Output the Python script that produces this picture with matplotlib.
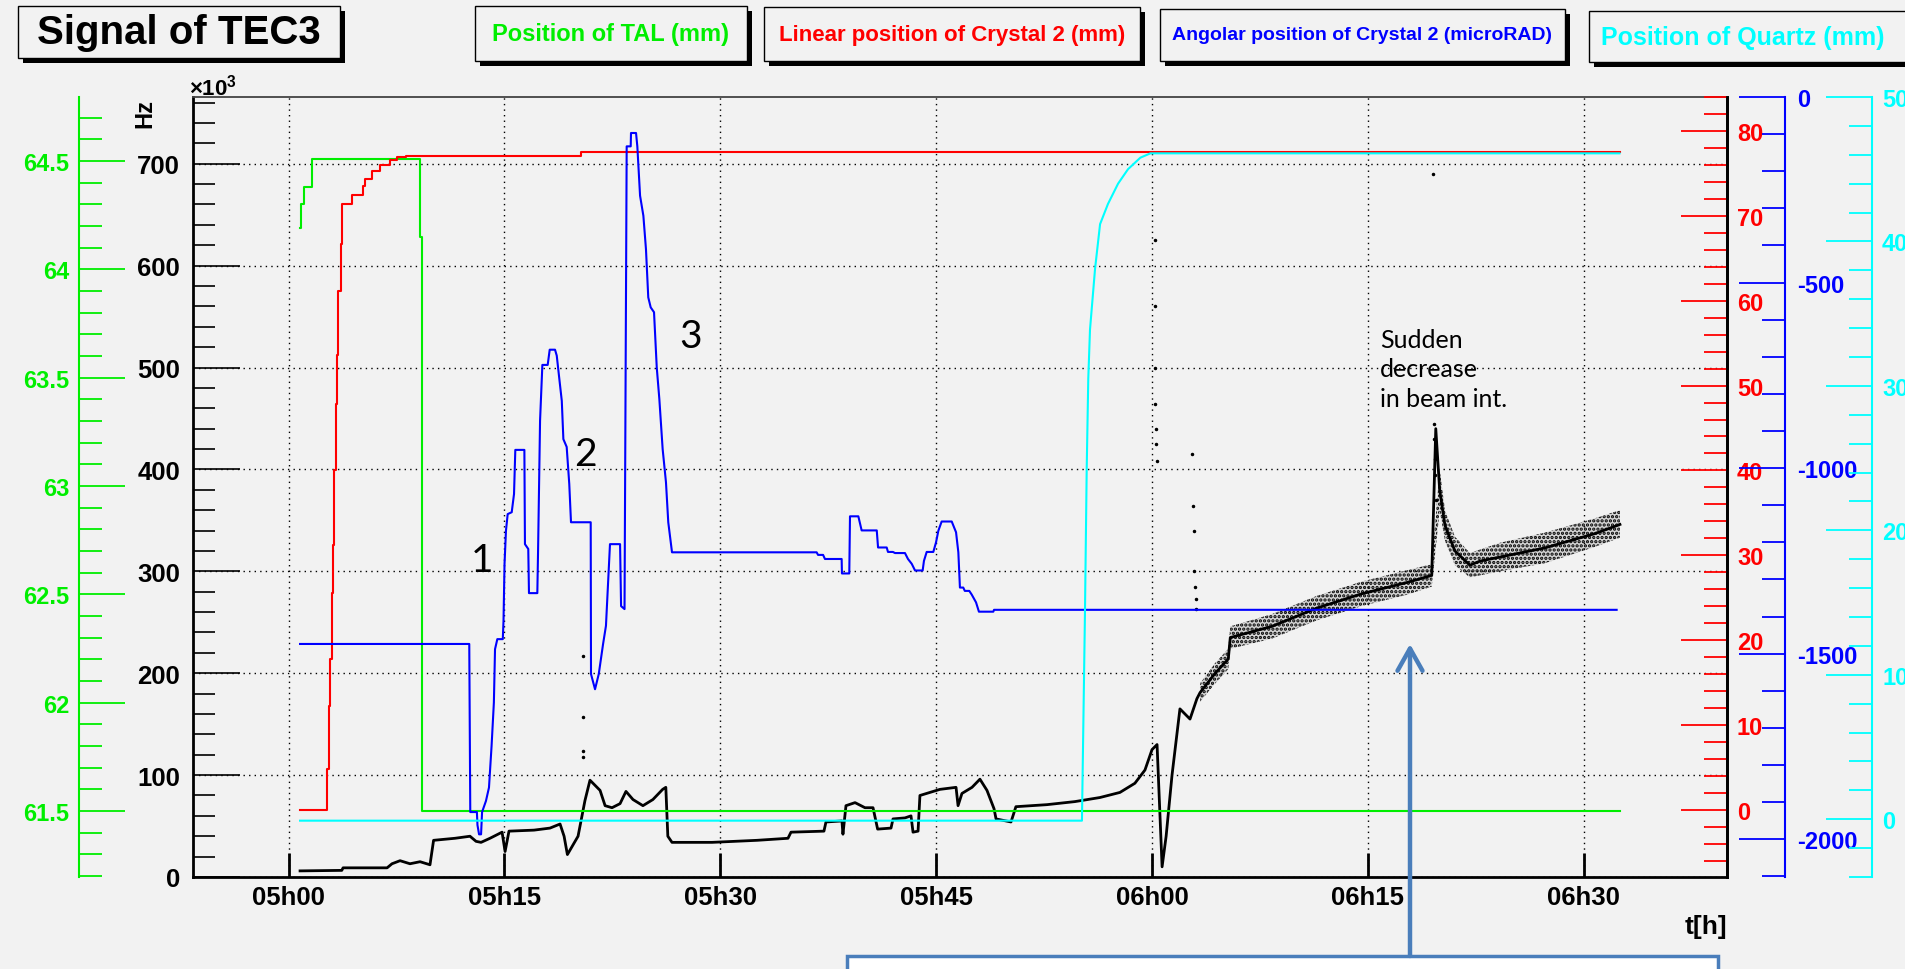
import numpy as np
import matplotlib.pyplot as plt
from matplotlib.patches import Rectangle, FancyArrowPatch
from matplotlib.ticker import MultipleLocator, FuncFormatter

# time is in minutes after 05h00
# Position of TAL (mm)
tal_t = [0.8, 0.87, 1.1, 1.63, 9.14, 9.3, 92.5]
tal_mm = [64.19, 64.30, 64.38, 64.51, 64.15, 61.5, 61.5]

# Linear position of Crystal 2 (mm)
lin_t = [0.8, 2.65, 2.81, 2.91, 3.0, 3.09, 3.19, 3.28, 3.37, 3.46, 3.62, 3.69, 4.44, 5.15,
         5.32, 5.78, 6.36, 7.05, 7.56, 8.17, 20.3, 92.5]
lin_mm = [0, 4.8, 12.2, 17.8, 25.6, 31.2, 40.0, 47.8, 53.6, 61.2, 66.7, 71.4, 72.4, 73.5,
          74.3, 75.3, 76.0, 76.6, 76.9, 77.1, 77.5, 77.5]

# Angular position of Crystal 2 (microRAD)
ang_t = [0.80, 12.56, 12.63, 13.09, 13.13, 13.24, 13.38, 13.45, 13.72, 13.93, 14.11, 14.27,
         14.35, 14.51, 14.89, 14.94, 15.01, 15.11, 15.23, 15.51, 15.67, 15.76, 16.39, 16.43,
         16.66, 16.71, 17.29, 17.34, 17.48, 17.64, 18.01, 18.15, 18.52, 18.64, 18.82, 18.99,
         19.10, 19.33, 19.51, 19.63, 21.00, 21.02, 21.30, 21.56, 21.86, 22.06, 22.34, 23.04,
         23.11, 23.35, 23.50, 23.78, 23.80, 24.15, 24.24, 24.43, 24.66, 24.84, 25.00, 25.17,
         25.40, 25.59, 25.77, 26.00, 26.23, 26.39, 26.65, 36.70, 36.80, 37.15, 37.28, 38.44,
         38.46, 38.97, 39.02, 39.60, 39.83, 40.88, 40.97, 41.57, 41.66, 42.00, 42.15, 42.84,
         43.05, 43.31, 43.54, 44.07, 44.16, 44.35, 44.81, 45.00, 45.16, 45.39, 46.09, 46.39,
         46.55, 46.66, 46.89, 47.00, 47.31, 47.48, 47.78, 47.98, 48.98, 49.03, 92.30]
ang_urad = [-1474, -1474, -1927, -1927, -1962, -1987, -1987, -1927, -1897, -1861, -1749, -1632,
            -1488, -1461, -1461, -1412, -1259, -1169, -1124, -1119, -1070, -951, -951, -1205,
            -1218, -1337, -1337, -1227, -872, -722, -722, -681, -681, -697, -760, -819,
            -922, -943, -1043, -1146, -1146, -1555, -1596, -1555, -1474, -1425, -1205, -1205,
            -1372, -1380, -133, -133, -97, -97, -133, -266, -320, -410, -540, -567,
            -580, -729, -814, -949, -1038, -1146, -1227, -1227, -1234, -1234, -1245, -1245,
            -1284, -1284, -1130, -1130, -1168, -1168, -1214, -1214, -1226, -1226, -1229, -1229,
            -1245, -1258, -1276, -1276, -1250, -1226, -1226, -1200, -1169, -1144, -1144, -1173,
            -1227, -1322, -1322, -1331, -1331, -1341, -1362, -1387, -1387, -1382, -1382]

# Position of Quartz (mm)
qz_t = [0.8, 55.14, 55.35, 55.47, 55.58, 55.7, 56.05, 56.4, 56.95, 57.65, 58.34, 59.2, 59.9, 92.5]
qz_mm = [-0.1, -0.1, 14.3, 24.2, 30.5, 33.9, 38.1, 41.2, 42.6, 44.0, 45.0, 45.8, 46.1, 46.1]

# TEC3 signal (x10^3 Hz), trend of the dots
sig_t = [0.80, 3.70, 3.79, 6.85, 7.19, 7.75, 8.44, 9.14, 9.83, 10.08,
         11.57, 12.61, 13.03, 13.38, 14.00, 14.84, 15.05, 15.32, 17.06, 18.17,
         18.87, 19.15, 19.38, 20.12, 20.60, 20.95, 21.30, 21.65, 22.00, 22.48,
         23.04, 23.45, 23.94, 24.63, 25.32, 26.00, 26.22, 26.36, 26.65, 29.43,
         32.56, 34.71, 34.92, 37.21, 37.35, 38.46, 38.53, 38.74, 39.37, 40.06,
         40.62, 40.94, 41.87, 42.01, 42.84, 43.26, 43.40, 43.75, 43.88, 45.27,
         46.39, 46.53, 46.80, 47.50, 48.05, 48.54, 49.03, 49.17, 50.21, 50.55,
         52.71, 54.65, 56.39, 57.78, 58.82, 59.52, 60.01, 60.36, 60.71, 60.99,
         61.40, 61.95, 62.65, 63.13, 63.35, 64.40, 65.31, 65.45, 68.35, 71.48,
         74.60, 77.72, 79.45, 79.73, 80.00, 80.37, 81.06, 82.10, 82.80, 84.19,
         85.58, 87.32, 89.05, 90.79, 92.53]
sig_khz = [6, 6.5, 9, 9, 13, 16, 13, 15, 12, 36,
           38, 40, 35, 34, 38, 44, 25, 45, 46, 48,
           52, 40, 22, 40, 75, 95, 90, 85, 70, 68,
           72, 84, 76, 70, 76, 86, 88, 40, 34, 34,
           36, 38, 44, 45, 54, 55, 42, 70, 73, 68,
           68, 47, 48, 57, 58, 60, 44, 45, 80, 86,
           88, 70, 82, 88, 96, 85, 67, 57, 54, 69,
           71, 74, 78, 83, 92, 105, 125, 130, 10, 40,
           100, 165, 155, 175, 181, 200, 214, 235, 246, 264,
           278, 289, 296, 440, 380, 345, 320, 306, 310, 314,
           318, 323, 330, 337, 346]

# spread of the noisy part of the signal
band_t = [63.35, 64.4, 65.31, 65.45, 68.35, 71.48, 74.6, 77.72, 79.45, 80.0, 80.37, 81.06,
          82.1, 84.19, 87.32, 90.79, 92.53]
band_lo = [172, 190, 204, 224, 234, 252, 266, 277, 285, 360, 330, 306, 294, 300, 308, 324, 333]
band_hi = [190, 210, 224, 246, 258, 276, 290, 301, 307, 400, 360, 334, 318, 328, 338, 352, 360]

# isolated dots (spikes)
out_t = [20.47, 20.47, 20.47, 20.47, 60.2, 60.2, 60.25, 60.25, 60.3, 60.3, 60.35,
         62.8, 62.85, 62.9, 62.95, 63.0, 63.05, 63.1, 79.55, 79.6, 79.62, 79.65, 79.7, 79.75]
out_khz = [217, 157, 124, 118, 625, 560, 500, 464, 440, 425, 408,
           415, 364, 340, 300, 285, 273, 263, 690, 445, 430, 410, 395, 370]

W, H = 1905, 970
BG = '#f2f2f2'
GREEN = '#00ee00'
RED = '#ff0000'
BLUE = '#0000ff'
CYAN = '#00ffff'
PPT = '#4a7ebb'

plt.rcParams['font.family'] = 'Liberation Sans'
plt.rcParams['font.weight'] = 'bold'
plt.rcParams['axes.unicode_minus'] = False
plt.rcParams['mathtext.fontset'] = 'custom'
plt.rcParams['mathtext.rm'] = 'Liberation Sans'
plt.rcParams['hatch.linewidth'] = 1.6


def fx(px):
    return px / W


def fy(py):
    return 1 - py / H


def pt(px):
    return px * 0.72


fig = plt.figure(figsize=(W / 100, H / 100), dpi=100, facecolor=BG)
ax = fig.add_axes([fx(193), fy(878), (1727 - 193) / W, (878 - 98) / H])
ax.set_facecolor(BG)

# main axis: signal in Hz
ax.set_xlim(-6.64, 99.97)
ax.set_ylim(0, 765.5)
ax.set_xticks(range(0, 91, 15))
ax.xaxis.set_major_formatter(FuncFormatter(lambda m, p: '%02dh%02d' % (5 + int(m) // 60, int(m) % 60)))
ax.yaxis.set_major_locator(MultipleLocator(100))
ax.yaxis.set_minor_locator(MultipleLocator(20))
ax.tick_params(axis='y', which='major', direction='in', length=pt(47), width=1.2, labelsize=18.5, pad=pt(13))
ax.tick_params(axis='y', which='minor', direction='in', length=pt(22), width=1.2)
ax.tick_params(axis='x', which='major', direction='in', length=pt(24), width=2, labelsize=18.5, pad=pt(8))
ax.grid(True, which='major', color='k', linestyle=(0, (1, 3)), linewidth=1)
for s in ['left', 'bottom', 'right']:
    ax.spines[s].set_linewidth(2)
ax.spines['top'].set_linewidth(1.3)
ax.spines['top'].set_color('#444444')

ax.fill_between(band_t, band_lo, band_hi, facecolor='#000000', alpha=0.12, linewidth=0)
ax.fill_between(band_t, band_lo, band_hi, facecolor='none', edgecolor='k', hatch='....', linewidth=0)
ax.plot(sig_t, sig_khz, color='k', lw=2.0)
ax.plot(out_t, out_khz, 'k.', ms=3)


def side_axis(lim, major, minor, color, side, offset_px, pad_px, labelsize):
    a = ax.twinx()
    a.set_ylim(*lim)
    for s in a.spines.values():
        s.set_visible(False)
    a.spines[side].set_visible(True)
    a.spines[side].set_color(color)
    a.spines[side].set_linewidth(1.5)
    if offset_px:
        a.spines[side].set_position(('outward', pt(offset_px)))
    if side == 'left':
        a.yaxis.set_ticks_position('left')
        a.yaxis.set_label_position('left')
    a.yaxis.set_major_locator(MultipleLocator(major))
    a.yaxis.set_minor_locator(MultipleLocator(minor))
    a.yaxis.set_major_formatter(FuncFormatter(lambda v, p: '%g' % round(v, 3)))
    a.tick_params(axis='y', which='major', direction='in', length=pt(46), width=1.3,
                  color=color, labelcolor=color, labelsize=labelsize, pad=pt(pad_px))
    a.tick_params(axis='y', which='minor', direction='in', length=pt(23), width=1.3, color=color)
    return a


ax_g = side_axis((61.196, 64.795), 0.5, 0.1, GREEN, 'left', 114, 10, 17)
ax_r = side_axis((-7.9, 84.0), 10, 2, RED, 'right', 0, 10, 17)
ax_r.spines['right'].set_color('k')
ax_r.spines['right'].set_linewidth(2)
ax_b = side_axis((-2102, 0), 500, 100, BLUE, 'right', 58, 12, 17)
ax_c = side_axis((-4.0, 50.0), 10, 2, CYAN, 'right', 145, 10, 17)

ax_g.plot(tal_t, tal_mm, color=GREEN, lw=1.5, drawstyle='steps-post')
ax_r.plot(lin_t, lin_mm, color=RED, lw=1.5, drawstyle='steps-post')
ax_b.plot(ang_t, ang_urad, color=BLUE, lw=1.5)
ax_c.plot(qz_t, qz_mm, color=CYAN, lw=1.5)

# axis titles
fig.text(fx(145), fy(113), 'Hz', rotation=90, fontsize=17, ha='center', va='center')
fig.text(fx(189), fy(88), r'$\times10^{3}$', fontsize=16, ha='left', va='center')
fig.text(fx(1727), fy(927), 't[h]', fontsize=19, ha='right', va='center')


# ROOT style boxes at the top
def label_box(x0, y0, x1, y1, text, color, size, tx=None):
    w = (x1 - x0) / W
    h = (y1 - y0) / H
    fig.add_artist(Rectangle((fx(x0 + 5), fy(y1 + 5)), w, h, transform=fig.transFigure,
                             facecolor='k', edgecolor='none', zorder=1))
    fig.add_artist(Rectangle((fx(x0), fy(y1)), w, h, transform=fig.transFigure,
                             facecolor=BG, edgecolor='k', lw=1, zorder=2))
    if tx is None:
        tx = (x0 + x1) / 2
    fig.text(fx(tx), fy((y0 + y1) / 2), text, color=color, fontsize=size,
             ha='center', va='center', zorder=3)


label_box(18, 7, 340, 59, 'Signal of TEC3', 'k', 29)
label_box(475, 7, 747, 62, 'Position of TAL (mm)', GREEN, 17)
label_box(764, 8, 1140, 62, 'Linear position of Crystal 2 (mm)', RED, 16)
label_box(1160, 10, 1565, 62, 'Angolar position of Crystal 2 (microRAD)', BLUE, 14)
label_box(1589, 12, 1930, 63, 'Position of Quartz (mm)', CYAN, 18, tx=1743)

# hand annotations
note = dict(family='Lato', weight='normal', color='k')
fig.text(fx(482), fy(561), '1', fontsize=28, ha='center', va='center', **note)
fig.text(fx(585), fy(455), '2', fontsize=28, ha='center', va='center', **note)
fig.text(fx(691), fy(337), '3', fontsize=28, ha='center', va='center', **note)
fig.text(fx(1380), fy(370), 'Sudden\ndecrease\nin beam int.', fontsize=18, ha='left', va='center',
         linespacing=1.35, **note)

fig.add_artist(Rectangle((fx(847), fy(1000)), (1718 - 847) / W, 43 / H, transform=fig.transFigure,
                         facecolor='white', edgecolor=PPT, lw=2.5, zorder=5))
fig.add_artist(FancyArrowPatch((fx(1410), fy(957)), (fx(1410), fy(645)), transform=fig.transFigure,
                               arrowstyle='->,head_length=0.8,head_width=0.45', mutation_scale=20,
                               lw=3.2, color=PPT, shrinkA=0, shrinkB=0, zorder=6))

plt.savefig('out.png', dpi=100, facecolor=BG)
